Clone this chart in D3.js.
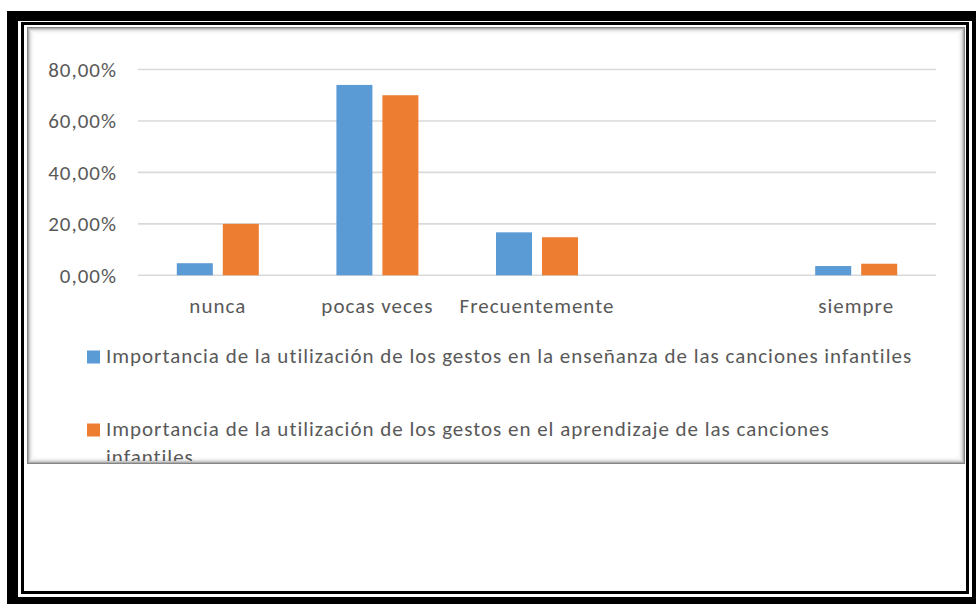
<!DOCTYPE html>
<html>
<head>
<meta charset="utf-8">
<script src="https://cdn.jsdelivr.net/npm/d3@7"></script>
<style>
  html, body { margin: 0; padding: 0; background: #fff; }
  svg { display: block; }
  text { font-family: Calibri, Carlito, Lato, sans-serif; fill: #595959; }
</style>
</head>
<body>
<div id="chart"></div>
<script>
// data (the 4th category is an empty slot in the original)
var categories = ["nunca", "pocas veces", "Frecuentemente", "", "siempre"];
var series = ["ensenanza", "aprendizaje"];
var ensenanza = [0.047, 0.74, 0.167, null, 0.036];
var aprendizaje = [0.20, 0.70, 0.148, null, 0.045];
var yTicks = [0, 0.2, 0.4, 0.6, 0.8];
var legendLines = [
  ["Importancia de la utilización de los gestos en la enseñanza de las canciones infantiles"],
  ["Importancia de la utilización de los gestos en el aprendizaje de las canciones", "infantiles"]
];
var colors = ["#5B9BD5", "#ED7D31"];

var W = 976, H = 604;
var svg = d3.select("#chart").append("svg")
            .attr("width", W)
            .attr("height", H);

// outer frame (thick black, then thin black line)
svg.append("rect").attr("x", 7).attr("y", 11).attr("width", W - 7).attr("height", H - 11).attr("fill", "#000");
svg.append("rect").attr("x", 18).attr("y", 21).attr("width", 954).attr("height", 576).attr("fill", "#fff");
svg.append("rect").attr("x", 22.5).attr("y", 23.5).attr("width", 945).attr("height", 569)
   .attr("fill", "none").attr("stroke", "#000").attr("stroke-width", 3);

// chart box
var box = {x: 27, y: 27, w: 938, h: 437};
svg.append("clipPath").attr("id", "boxclip")
   .append("rect").attr("x", box.x).attr("y", box.y).attr("width", box.w).attr("height", box.h - 3);
var g = svg.append("g").attr("clip-path", "url(#boxclip)");
g.append("rect").attr("x", box.x).attr("y", box.y).attr("width", box.w).attr("height", box.h).attr("fill", "#fff");

// scales
var x = d3.scaleBand()
          .domain(categories.map(function(d, i) { return i; }))
          .range([138, 936]);
var bw = x.bandwidth();
var x1 = d3.scaleBand()
           .domain(series)
           .range([bw / 2 - 41, bw / 2 + 41])
           .paddingInner(0.217);
var y = d3.scaleLinear()
          .domain([0, 0.8])
          .range([275.3, 69.5]);

var locale = d3.formatLocale({decimal: ",", thousands: ".", grouping: [3], currency: ["", "€"]});
var fmt = locale.format(".2%");

// gridlines
g.selectAll(".grid").data(yTicks).enter().append("line")
  .attr("x1", 138).attr("x2", 936)
  .attr("y1", function(d) { return y(d); })
  .attr("y2", function(d) { return y(d); })
  .attr("stroke", "#D9D9D9")
  .attr("stroke-width", 1.6);

// y axis labels
var yAxis = g.append("g")
   .attr("transform", "translate(117,0)")
   .call(d3.axisLeft(y).tickValues(yTicks).tickFormat(fmt).tickSize(0).tickPadding(0));
yAxis.select(".domain").remove();
yAxis.selectAll("text")
   .attr("fill", "#595959")
   .style("font-size", "21px")
   .style("letter-spacing", "1px")
   .style("font-family", "Calibri, Carlito, Lato, sans-serif")
   .attr("dy", "0.33em");

// bars
var values = [ensenanza, aprendizaje];
series.forEach(function(s, si) {
  g.append("g").selectAll("rect")
    .data(values[si].map(function(v, i) { return {i: i, v: v}; }).filter(function(d) { return d.v != null; }))
    .enter().append("rect")
    .attr("x", function(d) { return x(d.i) + x1(s); })
    .attr("width", x1.bandwidth())
    .attr("y", function(d) { return y(d.v); })
    .attr("height", function(d) { return y(0) - y(d.v); })
    .attr("fill", colors[si]);
});

// category labels
var xAxis = g.append("g")
   .attr("transform", "translate(0," + 313 + ")")
   .call(d3.axisBottom(x).tickFormat(function(i) { return categories[i]; }).tickSize(0).tickPadding(0));
xAxis.select(".domain").remove();
xAxis.selectAll("text")
   .attr("fill", "#595959")
   .attr("dy", 0)
   .style("font-size", "21px")
   .style("letter-spacing", "1px")
   .style("font-family", "Calibri, Carlito, Lato, sans-serif");

// legend
var legendY = [363, 436];
legendLines.forEach(function(lines, li) {
  g.append("rect")
    .attr("x", 87).attr("y", legendY[li] - 12.5)
    .attr("width", 13).attr("height", 13)
    .attr("fill", colors[li]);
  var t = g.append("text")
    .attr("x", 106).attr("y", legendY[li])
    .style("font-size", "21px")
    .style("letter-spacing", "0.98px");
  lines.forEach(function(line, k) {
    t.append("tspan").attr("x", 106).attr("dy", k === 0 ? 0 : 28).text(line);
  });
});

// inner shadow round the chart box
var shade = [0.6, 0.4, 0.25, 0.15, 0.08, 0.04, 0.02];
shade.forEach(function(o, i) {
  svg.append("rect")
    .attr("x", box.x + i + 0.5).attr("y", box.y + i + 0.5)
    .attr("width", box.w - 2 * i - 1).attr("height", box.h - 2 * i - 1)
    .attr("fill", "none")
    .attr("stroke", "#333")
    .attr("stroke-opacity", o);
});
</script>
</body>
</html>
